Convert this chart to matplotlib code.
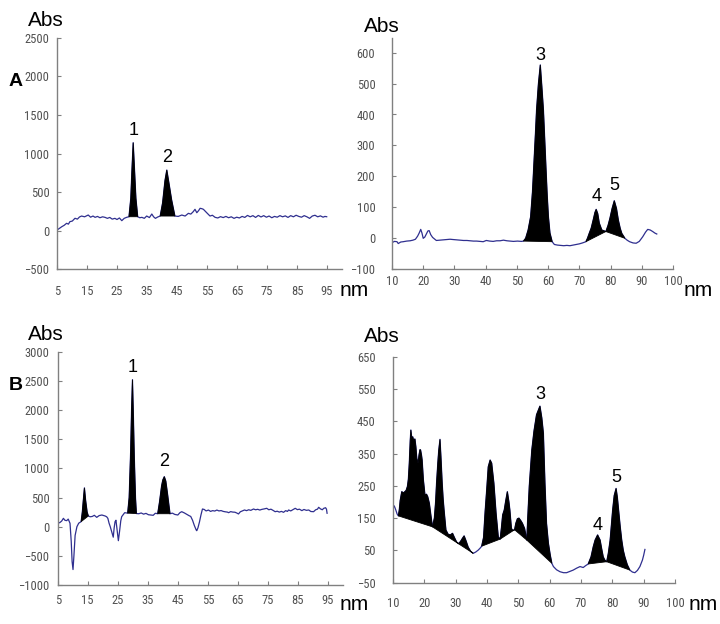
import numpy as np
import matplotlib
matplotlib.use("Agg")
import matplotlib.pyplot as plt
from matplotlib import font_manager as fm

W, H = 720, 624

# ---- data (x = nm, y = Abs) ----
a1_trace = [(5, 9), (5.8, 30), (6.6, 52), (7.4, 70), (8.2, 96), (8.8, 85), (9.3, 117), (10.1, 125),
            (11, 161), (11.8, 150), (12.5, 178), (13.2, 190), (14.2, 180), (15.4, 203), (16.2, 175),
            (17, 190), (17.7, 173), (18.5, 185), (19.3, 168), (20.2, 180), (21, 173), (21.8, 160),
            (22.6, 172), (23.4, 150), (24.3, 160), (25, 145), (25.8, 165), (26.6, 130), (27.4, 160),
            (28.2, 173), (29.0, 181), (29.6, 420), (30.0, 800), (30.4, 1140), (30.8, 820), (31.3, 420),
            (31.9, 181), (32.6, 168), (33.3, 173), (34.1, 160), (34.9, 190), (35.8, 170), (36.6, 216),
            (37.2, 180), (37.8, 160), (38.6, 178), (39.4, 190), (40.2, 360), (41.0, 650), (41.6, 786),
            (42.3, 620), (43.2, 400), (44.3, 190), (45.4, 185), (46.6, 203), (47.7, 190), (48.8, 225),
            (49.6, 215), (50.4, 246), (51.0, 277), (51.6, 233), (52.2, 260), (52.7, 290), (53.3, 285),
            (53.8, 277), (54.9, 233), (56.0, 190), (56.8, 200), (57.7, 173), (58.6, 165), (59.5, 182),
            (60.4, 170), (61.3, 185), (62.2, 168), (63.1, 180), (64.0, 160), (64.9, 175), (65.8, 165),
            (66.7, 185), (67.6, 172), (68.5, 198), (69.4, 180), (70.3, 195), (71.2, 172), (72.1, 198),
            (73.0, 178), (73.9, 195), (74.8, 175), (75.7, 190), (76.6, 168), (77.5, 185), (78.4, 175),
            (79.3, 195), (80.2, 180), (81.1, 192), (82.0, 172), (82.9, 195), (83.8, 180), (84.7, 200),
            (85.6, 185), (86.5, 175), (87.4, 195), (88.3, 180), (89.2, 160), (90.1, 190), (91.0, 200),
            (91.9, 180), (92.8, 192), (93.7, 175), (94.3, 185), (94.9, 181)]
a1_fill = [(29.0, 31.9), (39.4, 44.3)]
a1_peaks = [("1", 30.4, 1140), ("2", 41.6, 786)]

a2_trace = [(10, -16), (10.8, -12), (11.6, -13), (12.0, -19), (12.8, -14), (13.6, -13), (14.7, -11),
            (15.8, -10), (16.7, -8), (17.5, -5), (18.2, 5), (18.7, 15), (19.2, 27), (19.6, 15), (20.0, -2),
            (20.5, 2), (21.0, 12), (21.5, 22), (21.9, 23), (22.4, 10), (23.0, 1), (24.2, -9), (25.3, -8),
            (26.4, -7), (27.5, -6), (28.6, -5), (29.6, -6), (30.7, -7), (31.8, -8), (32.9, -9), (34.0, -9),
            (35.0, -10), (36.1, -11), (37.1, -11), (38.2, -12), (39.2, -13), (39.7, -11), (40.2, -9),
            (41.3, -11), (42.4, -12), (43.5, -10), (44.6, -10), (45.7, -8), (46.8, -10), (47.8, -11),
            (48.9, -12), (50.2, -11), (51.5, -12), (52.1, -11), (52.8, -2), (53.6, 25), (54.4, 68),
            (55.0, 150), (55.4, 230), (56.0, 350), (56.3, 415), (56.9, 500), (57.5, 561), (58.0, 490),
            (58.5, 415), (59.0, 300), (59.3, 230), (59.7, 140), (60.1, 68), (60.6, 15), (61.3, -13),
            (62.0, -22), (63.0, -24), (64.0, -25), (65.0, -26), (66.0, -25), (67.0, -26), (68.0, -24),
            (69.0, -22), (70.0, -20), (71.0, -17), (72.1, -13), (72.6, -2), (73.2, 15), (73.8, 31),
            (74.5, 60), (75.0, 82), (75.4, 92), (75.9, 78), (76.4, 47), (77.2, 25), (78.5, 20), (79.2, 40),
            (79.8, 63), (80.5, 95), (81.2, 120), (81.9, 95), (82.5, 57), (83.1, 30), (83.6, 14),
            (84.6, -2), (85.3, -8), (86.1, -13), (87.2, -17), (88.2, -18), (89.2, -12), (90.3, 3),
            (91.2, 18), (91.9, 27), (92.7, 25), (93.5, 20), (94.2, 15), (94.8, 12)]
a2_fill = [(52.1, 61.3), (72.1, 78.5), (78.5, 84.6)]
a2_peaks = [("3", 57.5, 561), ("4", 75.4, 92), ("5", 81.2, 120)]

b1_trace = [(5, 60), (5.7, 70), (6.3, 95), (6.9, 143), (7.4, 110), (8.0, 103), (8.5, 130), (9.1, 58),
            (9.5, -250), (9.8, -600), (10.1, -735), (10.4, -500), (10.8, -150), (11.4, 0), (12.0, 60),
            (12.8, 86), (13.2, 250), (13.6, 500), (13.9, 665), (14.3, 450), (14.8, 250), (15.2, 183),
            (15.8, 170), (16.5, 175), (17.2, 195), (18.0, 160), (18.8, 190), (19.7, 200), (20.8, 183),
            (21.3, 170), (21.7, 143), (22.1, 60), (22.5, 0), (23.0, -90), (23.5, -180), (23.8, -20),
            (24.1, 86), (24.4, 110), (24.8, -60), (25.2, -240), (25.6, -80), (26.0, 100), (26.3, 171),
            (27.3, 240), (28.3, 232), (28.8, 500), (29.3, 1300), (29.6, 2000), (29.9, 2520), (30.2, 1900),
            (30.5, 1200), (30.9, 500), (31.2, 225), (32.0, 222), (32.8, 235), (33.6, 215), (34.4, 228),
            (35.2, 205), (36.0, 200), (36.8, 195), (37.5, 230), (38.3, 222), (38.9, 420), (39.6, 700),
            (40.0, 800), (40.5, 857), (41.0, 780), (41.6, 550), (42.0, 380), (42.4, 222), (43.2, 232),
            (44.0, 210), (45.0, 200), (45.7, 240), (46.3, 257), (47.2, 235), (48.0, 210), (48.7, 190),
            (49.3, 175), (49.9, 110), (50.5, 20), (51.1, -55), (51.3, -69), (51.7, -20), (52.2, 80),
            (52.7, 200), (53.2, 303), (53.8, 295), (54.4, 270), (55.2, 285), (55.9, 262), (56.6, 275),
            (57.3, 268), (58.0, 285), (58.7, 270), (59.4, 276), (60.1, 262), (60.8, 255), (61.5, 250),
            (61.9, 240), (62.6, 258), (63.3, 250), (64.0, 248), (64.6, 235), (65.2, 218), (65.8, 255),
            (66.5, 270), (67.2, 286), (67.9, 275), (68.6, 290), (69.3, 280), (70.2, 303), (70.9, 290),
            (71.6, 298), (72.3, 285), (73.0, 297), (73.8, 305), (74.6, 315), (75.3, 290), (76.0, 300),
            (76.7, 280), (77.4, 257), (78.1, 265), (78.8, 250), (79.5, 262), (80.2, 246), (80.9, 275),
            (81.5, 262), (81.9, 286), (82.6, 270), (83.3, 290), (84.1, 315), (84.8, 292), (85.5, 300),
            (86.3, 275), (87.0, 295), (87.8, 280), (88.6, 286), (89.3, 260), (90.2, 257), (90.9, 290),
            (91.5, 300), (91.9, 332), (92.5, 305), (93.1, 290), (93.6, 315), (94.2, 325), (94.5, 300),
            (94.7, 230)]
b1_fill = [(12.8, 15.2), (28.3, 31.2), (38.3, 42.4)]
b1_peaks = [("1", 29.9, 2520), ("2", 40.5, 857)]

b2_trace = [(10.0, 180), (10.4, 188), (10.9, 175), (11.3, 163), (11.7, 157), (12.0, 175), (12.3, 205),
            (12.8, 232), (13.3, 228), (13.8, 232), (14.2, 236), (14.6, 248), (14.9, 270), (15.2, 320),
            (15.5, 390), (15.7, 423), (16.0, 398), (16.3, 402), (16.6, 390), (16.8, 394), (17.0, 395),
            (17.3, 371), (17.6, 335), (18.0, 320), (18.3, 345), (18.6, 362), (18.8, 361), (19.1, 345),
            (19.3, 330), (19.7, 268), (20.2, 222), (20.7, 224), (21.1, 216), (21.6, 196), (22.0, 165),
            (22.3, 144), (22.6, 123), (23.2, 150), (23.6, 200), (23.9, 258), (24.3, 320), (24.6, 360),
            (25.0, 394), (25.3, 340), (25.7, 258), (26.0, 210), (26.3, 175), (26.9, 113), (27.6, 100),
            (28.3, 98), (29.0, 103), (29.6, 90), (30.3, 76), (31.0, 71), (31.7, 80), (32.2, 88),
            (32.7, 95), (33.3, 80), (34.0, 60), (34.8, 47), (35.6, 41), (36.4, 45), (37.2, 51),
            (37.8, 57), (38.3, 63), (38.9, 90), (39.4, 170), (39.9, 237), (40.4, 309), (41.0, 330),
            (41.5, 320), (42.2, 258), (42.9, 165), (43.6, 92), (44.2, 85), (44.6, 120), (45.0, 160),
            (45.5, 175), (46.0, 205), (46.5, 232), (47.0, 200), (47.3, 175), (47.8, 118), (48.2, 112),
            (48.8, 114), (49.2, 134), (49.7, 148), (50.2, 150), (50.8, 142), (51.3, 134), (52.0, 118),
            (52.7, 82), (53.0, 150), (53.5, 250), (54.3, 361), (55.0, 420), (55.8, 470), (56.9, 497),
            (57.5, 460), (58.0, 413), (58.5, 258), (59.0, 134), (59.6, 72), (60.2, 35), (60.7, 10),
            (61.2, 0), (62.2, -10), (63.3, -16), (64.4, -19), (65.4, -19), (66.5, -15), (67.5, -11),
            (68.6, -5), (69.7, 0), (70.7, -3), (71.5, 3), (72.3, 8), (73.2, 30), (73.9, 61), (74.5, 82),
            (75.3, 98), (76.1, 82), (76.6, 55), (77.1, 30), (77.6, 20), (78.2, 15), (78.7, 40),
            (79.3, 82), (80.1, 175), (80.6, 220), (81.2, 242), (81.6, 215), (82.0, 175), (82.5, 125),
            (83.0, 82), (83.5, 50), (84.0, 30), (84.8, 5), (85.6, -11), (86.4, -17), (87.2, -19),
            (88.0, -12), (88.8, 0), (89.6, 20), (90.0, 35), (90.4, 53)]
b2_fill = [(11.7, 22.6), (22.6, 35.6), (38.3, 44.2), (44.2, 48.8), (48.8, 52.7), (52.7, 60.7),
           (72.3, 78.2), (78.2, 85.6)]
b2_peaks = [("3", 56.9, 497), ("4", 75.3, 98), ("5", 81.2, 242)]

a1_xticks, a1_yticks = np.arange(5, 96, 10), np.arange(-500, 2501, 500)
a2_xticks, a2_yticks = np.arange(10, 101, 10), np.arange(-100, 601, 100)
b1_xticks, b1_yticks = np.arange(5, 96, 10), np.arange(-1000, 3001, 500)
b2_xticks, b2_yticks = np.arange(10, 101, 10), np.arange(-50, 651, 100)

LINE = "#2f2f8f"
plt.rcParams["font.family"] = ["Liberation Sans", "DejaVu Sans"]

# tick labels in the reference are a narrow face; use one if installed
_names = {f.name for f in fm.fontManager.ttflist}
_narrow = [n for n in ("Liberation Sans Narrow", "Roboto Condensed", "DejaVu Sans Condensed",
                       "Open Sans Condensed") if n in _names]
if _narrow:
    TICKFONT, TICKSIZE = [_narrow[0], "DejaVu Sans"], 9
else:
    TICKFONT, TICKSIZE = ["Liberation Sans", "DejaVu Sans"], 7

fig = plt.figure(figsize=(W / 100, H / 100), dpi=100)


def panel(box, trace, fills, peaks, xticks, yticks, xlim, ylim, xpad, ypad, lab_dy):
    l, r, t, b = box
    ax = fig.add_axes([l / W, 1 - b / H, (r - l) / W, (b - t) / H])
    x, y = np.array(trace, dtype=float).T
    ax.plot(x, y, color=LINE, lw=0.9, zorder=2)
    for x0, x1 in fills:
        m = (x >= x0 - 1e-6) & (x <= x1 + 1e-6)
        ax.fill(x[m], y[m], color="black", lw=0.6, ec="black", zorder=3)
    for (lab, px, py), dy in zip(peaks, lab_dy):
        ax.annotate(lab, (px, py), xytext=(0, dy), textcoords="offset points",
                    ha="center", va="bottom", fontsize=13)
    ax.set_xlim(*xlim); ax.set_ylim(*ylim)
    ax.set_xticks(xticks); ax.set_yticks(yticks)
    for s in ("top", "right"):
        ax.spines[s].set_visible(False)
    for s in ("left", "bottom"):
        ax.spines[s].set_color("#808080"); ax.spines[s].set_linewidth(1.0)
    ax.tick_params(direction="in", length=3, width=0.8, color="#808080", labelcolor="#505050",
                   labelsize=TICKSIZE)
    ax.tick_params(axis="x", pad=xpad)
    ax.tick_params(axis="y", pad=ypad)
    for t_ in ax.get_xticklabels() + ax.get_yticklabels():
        t_.set_family(TICKFONT)
    ax.patch.set_alpha(0)
    return ax


panel((57, 342, 37.7, 269.3), a1_trace, a1_fill, a1_peaks, a1_xticks, a1_yticks,
      (5, 100), (-500, 2500), 11.5, 5.5, [3, 3])
panel((392, 673, 37.5, 268.5), a2_trace, a2_fill, a2_peaks, a2_xticks, a2_yticks,
      (10, 100), (-100, 650), 5, 12, [1, 3, 5])
panel((57.7, 343, 351.7, 585), b1_trace, b1_fill, b1_peaks, b1_xticks, b1_yticks,
      (5, 100), (-1000, 3000), 6.5, 6, [3, 5])
panel((393, 675, 356.7, 582.7), b2_trace, b2_fill, b2_peaks, b2_xticks, b2_yticks,
      (10, 100), (-50, 650), 10.5, 12.5, [2, 1, 2])


def ftext(px, py, s, **kw):
    fig.text(px / W, 1 - py / H, s, ha="center", va="center", **kw)


for px, py in [(46, 21), (382, 26), (46, 335), (382, 336)]:
    ftext(px, py, "Abs", fontsize=15)
for px, py in [(354, 290), (698, 290), (354, 604), (703, 604)]:
    ftext(px, py, "nm", fontsize=15)
ftext(16, 81, "A", fontsize=14, fontweight="bold")
ftext(16, 385, "B", fontsize=14, fontweight="bold")

fig.savefig("out.png", dpi=100)
